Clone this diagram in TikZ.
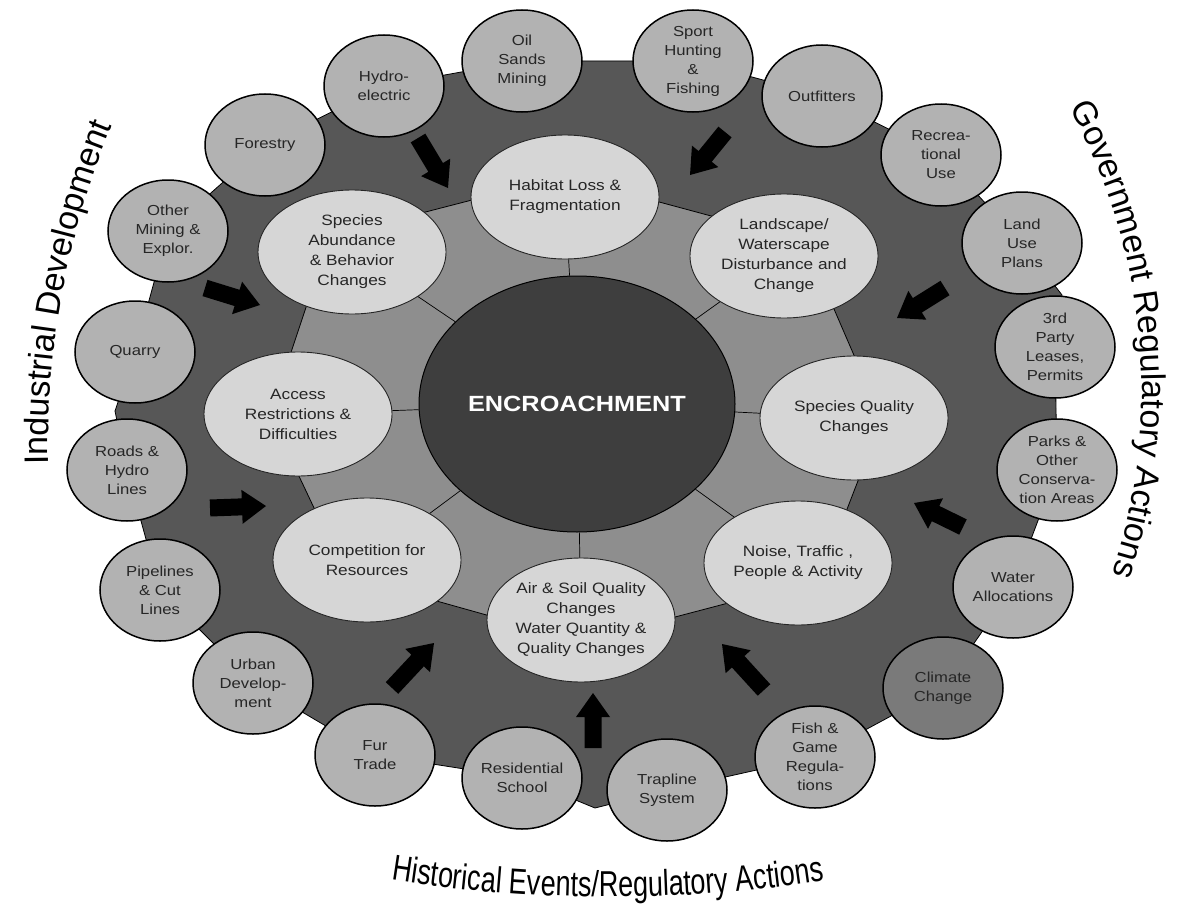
\documentclass[tikz,border=0pt]{standalone}
\usepackage{fontspec}
\setmainfont{Liberation Sans}
\newfontfamily\smallfont[FakeStretch=1.15]{Liberation Sans}
\newfontfamily\labelfont{Liberation Sans}
\newfontfamily\bottomfont[FakeStretch=0.75]{Liberation Sans}
\usetikzlibrary{shapes.geometric,decorations.text,calc}
\definecolor{ringdark}{HTML}{575757}
\definecolor{midgray}{HTML}{8E8E8E}
\definecolor{lightell}{HTML}{D6D6D6}
\definecolor{outerfill}{HTML}{B2B2B2}
\definecolor{centerfill}{HTML}{3E3E3E}
\definecolor{climatefill}{HTML}{7A7A7A}
\newcommand{\blockarrow}[2]{%
  \coordinate (nk) at ($(#2)!24pt!(#1)$);
  \fill[black] ($(#1)!8.5pt!90:(#2)$) -- ($(nk)!8.5pt!-90:(#1)$) -- ($(nk)!17pt!-90:(#1)$) -- (#2)
    -- ($(nk)!17pt!90:(#1)$) -- ($(nk)!8.5pt!90:(#1)$) -- ($(#1)!8.5pt!-90:(#2)$) -- cycle;}
\begin{document}
\begin{tikzpicture}[x=1pt,y=-1pt,
  outer/.style={ellipse, draw=black, line width=1.5pt, fill=outerfill, minimum width=120pt, minimum height=102pt, inner sep=-4pt, align=center, text=black!85, font=\smallfont\fontsize{14.5}{19}\selectfont},
  midell/.style={ellipse, draw=black!85, line width=0.9pt, fill=lightell, minimum width=188pt, minimum height=124pt, inner sep=-4pt, align=center, text=black!85, font=\smallfont\fontsize{15}{20}\selectfont},
  centre/.style={ellipse, draw=black, line width=1pt, fill=centerfill, minimum width=316pt, minimum height=256pt, inner sep=0pt, text=white, font=\smallfont\bfseries\fontsize{22}{26}\selectfont},
  spoke/.style={draw=black, line width=0.7pt},
  ringline/.style={draw=black, line width=0.8pt}]
\useasboundingbox (0,0) rectangle (1184,907);
\fill[white] (0,0) rectangle (1184,907);
% coordinates
\coordinate (ctr) at (577,404);
\coordinate (pm1) at (565,197);
\coordinate (pm2) at (784,256);
\coordinate (pm3) at (854,418);
\coordinate (pm4) at (798,563);
\coordinate (pm5) at (581,620);
\coordinate (pm6) at (367,560);
\coordinate (pm7) at (298,414);
\coordinate (pm8) at (352,252);
\coordinate (po1) at (265,145);
\coordinate (po2) at (384,86);
\coordinate (po3) at (522,61);
\coordinate (po4) at (693,61);
\coordinate (po5) at (822,96);
\coordinate (po6) at (941,155);
\coordinate (po7) at (1022,243);
\coordinate (po8) at (1055,347);
\coordinate (po9) at (1057,470);
\coordinate (po10) at (1013,587);
\coordinate (po11) at (943,688);
\coordinate (po12) at (815,757);
\coordinate (po13) at (667,790);
\coordinate (po14) at (522,778);
\coordinate (po15) at (375,755);
\coordinate (po16) at (253,683);
\coordinate (po17) at (160,590);
\coordinate (po18) at (127,470);
\coordinate (po19) at (135,352);
\coordinate (po20) at (168,231);
% outer dark ring
\filldraw[fill=ringdark, ringline] (po1) -- (po2) -- (po3) -- (po4) -- (po5) -- (po6) -- (po7) -- (1062,295) -- (po8) -- (po9) -- (po10) -- (po11) -- (po12) -- (po13) -- (595,808) -- (po14) -- (po15) -- (po16) -- (po17) -- (po18) -- (115,411) -- (po19) -- (po20) -- cycle;
% middle region
\filldraw[fill=midgray, ringline] ($(ctr)!1.1!(pm1)$) -- ($(ctr)!1.1!(pm2)$) -- ($(ctr)!1.1!(pm3)$) -- ($(ctr)!1.1!(pm4)$) -- ($(ctr)!1.1!(pm5)$) -- ($(ctr)!1.1!(pm6)$) -- ($(ctr)!1.1!(pm7)$) -- ($(ctr)!1.1!(pm8)$) -- cycle;
% middle ellipses
\node[midell] (m1) at (pm1) {Habitat Loss \&\\Fragmentation};
\node[midell] (m2) at (pm2) {Landscape/\\Waterscape\\Disturbance and\\Change};
\node[midell] (m3) at (pm3) {Species Quality\\Changes};
\node[midell] (m4) at (pm4) {Noise, Traffic ,\\People \& Activity};
\node[midell] (m5) at (pm5) {Air \& Soil Quality\\Changes\\Water Quantity \&\\Quality Changes};
\node[midell] (m6) at (pm6) {Competition for\\Resources};
\node[midell] (m7) at (pm7) {Access\\Restrictions \&\\Difficulties};
\node[midell] (m8) at (pm8) {Species\\Abundance\\\& Behavior\\Changes};
\node[centre] (c) at (ctr) {ENCROACHMENT};
\foreach \i in {1,...,8} {\draw[spoke] (c) -- (m\i);}
% outer circles
\node[outer] (o1) at (po1) {Forestry};
\node[outer] (o2) at (po2) {Hydro-\\electric};
\node[outer] (o3) at (po3) {Oil\\Sands\\Mining};
\node[outer] (o4) at (po4) {Sport\\Hunting\\\&\\Fishing};
\node[outer] (o5) at (po5) {Outfitters};
\node[outer] (o6) at (po6) {Recrea-\\tional\\Use};
\node[outer] (o7) at (po7) {Land\\Use\\Plans};
\node[outer] (o8) at (po8) {3rd\\Party\\Leases,\\Permits};
\node[outer] (o9) at (po9) {Parks \&\\Other\\Conserva-\\tion Areas};
\node[outer] (o10) at (po10) {Water\\Allocations};
\node[outer, fill=climatefill] (o11) at (po11) {Climate\\Change};
\node[outer] (o12) at (po12) {Fish \&\\Game\\Regula-\\tions};
\node[outer] (o13) at (po13) {Trapline\\System};
\node[outer] (o14) at (po14) {Residential\\School};
\node[outer] (o15) at (po15) {Fur\\Trade};
\node[outer] (o16) at (po16) {Urban\\Develop-\\ment};
\node[outer] (o17) at (po17) {Pipelines\\\& Cut\\Lines};
\node[outer] (o18) at (po18) {Roads \&\\Hydro\\Lines};
\node[outer] (o19) at (po19) {Quarry};
\node[outer] (o20) at (po20) {Other\\Mining \&\\Explor.};
% arrows
\coordinate (a1t) at (418,138); \coordinate (a1h) at (448,188);
\coordinate (a2t) at (725,132); \coordinate (a2h) at (690,175);
\coordinate (a3t) at (205,288); \coordinate (a3h) at (260,305);
\coordinate (a4t) at (210,508); \coordinate (a4h) at (266,506);
\coordinate (a5t) at (945,288); \coordinate (a5h) at (897,318);
\coordinate (a6t) at (963,527); \coordinate (a6h) at (914,503);
\coordinate (a7t) at (392,688); \coordinate (a7h) at (434,643);
\coordinate (a8t) at (593,748); \coordinate (a8h) at (593,693);
\coordinate (a9t) at (764,690); \coordinate (a9h) at (722,644);
\blockarrow{a1t}{a1h}
\blockarrow{a2t}{a2h}
\blockarrow{a3t}{a3h}
\blockarrow{a4t}{a4h}
\blockarrow{a5t}{a5h}
\blockarrow{a6t}{a6h}
\blockarrow{a7t}{a7h}
\blockarrow{a8t}{a8h}
\blockarrow{a9t}{a9h}
% curved labels
\begin{scope}[y=1pt, yshift=-907pt]
\path[decorate, decoration={text along path, text align=left,
  text={|\labelfont\fontsize{34}{40}\selectfont|Industrial Development}}]
  ([shift={(181:857)}]905,457) arc[start angle=181, end angle=150, radius=857];
\path[decorate, decoration={text along path, text align=left,
  text={|\labelfont\fontsize{34}{40}\selectfont|Government Regulatory Actions}}]
  ([shift={(29:582)}]560,517) arc[start angle=29, end angle=-25, radius=582];
\path[decorate, decoration={text along path, text align=left,
  text={|\bottomfont\fontsize{36}{40}\selectfont|Historical Events/Regulatory Actions}}]
  ([shift={(261:1400)}]610,1410) arc[start angle=261, end angle=285, radius=1400];
\end{scope}
\end{tikzpicture}
\end{document}
